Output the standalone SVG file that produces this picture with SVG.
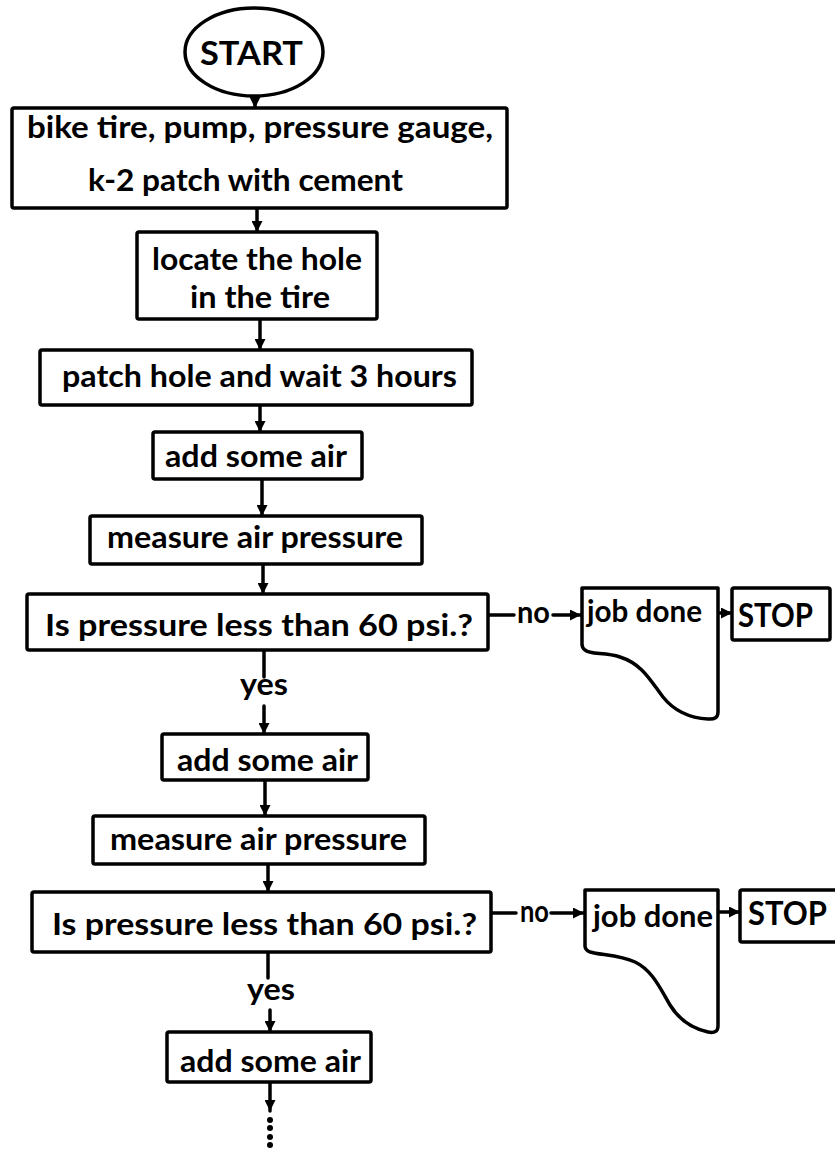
<svg xmlns="http://www.w3.org/2000/svg" width="835" height="1149" viewBox="0 0 835 1149">
  <style>
    .box { fill: #fff; stroke: #000; stroke-width: 3.5; stroke-linejoin: round; }
    .lbl { font-family: Lato, "Liberation Sans", sans-serif; font-weight: 700; font-size: 31px; fill: #000; }
    .big { font-size: 33px; }
    .conn { fill: none; stroke: #000; stroke-width: 3.5; stroke-linecap: round; }
    .dot { fill: #000; }
  </style>
  <defs>
    <marker id="arr" viewBox="0 0 10 10" refX="10" refY="5" markerWidth="12" markerHeight="11" markerUnits="userSpaceOnUse" orient="auto">
      <path d="M0,0 L10,5 L0,10 z" fill="#000"/>
    </marker>
  </defs>
  <rect width="835" height="1149" fill="#fff"/>

  <!-- connectors -->
  <g id="connectors">
    <line class="conn" x1="255" y1="96" x2="255" y2="108" marker-end="url(#arr)"/>
    <line class="conn" x1="257" y1="208" x2="257" y2="232" marker-end="url(#arr)"/>
    <line class="conn" x1="260" y1="320" x2="260" y2="350" marker-end="url(#arr)"/>
    <line class="conn" x1="260" y1="405" x2="260" y2="432" marker-end="url(#arr)"/>
    <line class="conn" x1="262" y1="480" x2="262" y2="516" marker-end="url(#arr)"/>
    <line class="conn" x1="263" y1="565" x2="263" y2="594" marker-end="url(#arr)"/>
    <line class="conn" x1="264" y1="651" x2="264" y2="677"/>
    <line class="conn" x1="264" y1="706" x2="264" y2="734" marker-end="url(#arr)"/>
    <line class="conn" x1="265" y1="781" x2="265" y2="816" marker-end="url(#arr)"/>
    <line class="conn" x1="268" y1="865" x2="268" y2="892" marker-end="url(#arr)"/>
    <line class="conn" x1="268" y1="953" x2="268" y2="978"/>
    <line class="conn" x1="270" y1="1010" x2="270" y2="1032" marker-end="url(#arr)"/>
    <line class="conn" x1="270" y1="1083" x2="270" y2="1111" marker-end="url(#arr)"/>
    <circle class="dot" cx="270" cy="1120" r="3"/>
    <circle class="dot" cx="270" cy="1128" r="3"/>
    <circle class="dot" cx="270" cy="1137" r="3"/>
    <circle class="dot" cx="270" cy="1145" r="3"/>

    <!-- first "no" branch -->
    <line class="conn" x1="489" y1="615" x2="514" y2="615"/>
    <line class="conn" x1="553" y1="615" x2="581" y2="615" marker-end="url(#arr)"/>
    <line class="conn" x1="719" y1="613" x2="732" y2="613" marker-end="url(#arr)"/>
    <!-- second "no" branch -->
    <line class="conn" x1="492" y1="913" x2="516" y2="913"/>
    <line class="conn" x1="551" y1="913" x2="584" y2="913" marker-end="url(#arr)"/>
    <line class="conn" x1="719" y1="912" x2="740" y2="912" marker-end="url(#arr)"/>

    <text class="lbl" x="517" y="623" textLength="33" lengthAdjust="spacingAndGlyphs">no</text>
    <text class="lbl" x="240" y="695" textLength="48" lengthAdjust="spacingAndGlyphs">yes</text>
    <text class="lbl" x="520" y="922" textLength="29" lengthAdjust="spacingAndGlyphs">no</text>
    <text class="lbl" x="247" y="1000" textLength="48" lengthAdjust="spacingAndGlyphs">yes</text>
  </g>

  <g id="start">
    <ellipse class="box" cx="254" cy="52" rx="69" ry="44"/>
    <text class="lbl big" x="200" y="65" textLength="103" lengthAdjust="spacingAndGlyphs">START</text>
  </g>

  <g id="materials">
    <rect class="box" x="12" y="108" width="495" height="100" rx="2"/>
    <text class="lbl" x="27" y="138" textLength="466" lengthAdjust="spacingAndGlyphs">bike tire, pump, pressure gauge,</text>
    <text class="lbl" x="88" y="191" textLength="315" lengthAdjust="spacingAndGlyphs">k-2 patch with cement</text>
  </g>

  <g id="locate">
    <rect class="box" x="137" y="232" width="240" height="87" rx="2"/>
    <text class="lbl" x="152" y="270" textLength="210" lengthAdjust="spacingAndGlyphs">locate the hole</text>
    <text class="lbl" x="190" y="308" textLength="140" lengthAdjust="spacingAndGlyphs">in the tire</text>
  </g>

  <g id="patch">
    <rect class="box" x="40" y="350" width="432" height="55" rx="2"/>
    <text class="lbl" x="62" y="387" textLength="395" lengthAdjust="spacingAndGlyphs">patch hole and wait 3 hours</text>
  </g>

  <g id="add1">
    <rect class="box" x="153" y="432" width="209" height="47" rx="2"/>
    <text class="lbl" x="165" y="467" textLength="182" lengthAdjust="spacingAndGlyphs">add some air</text>
  </g>

  <g id="measure1">
    <rect class="box" x="90" y="516" width="332" height="48" rx="2"/>
    <text class="lbl" x="107" y="548" textLength="296" lengthAdjust="spacingAndGlyphs">measure air pressure</text>
  </g>

  <g id="check1">
    <rect class="box" x="27" y="594" width="461" height="56" rx="2"/>
    <text class="lbl" x="45" y="636" textLength="428" lengthAdjust="spacingAndGlyphs">Is pressure less than 60 psi.?</text>
  </g>

  <g id="done1">
    <path class="box" d="M582,588 L718,588 L718,712 Q718,720 708,719 C690,718 675,712 663,697 C650,680 642,664 620,657 C605,652 590,655 585,650 Q582,648 582,644 Z"/>
    <text class="lbl" x="587" y="622" textLength="115" lengthAdjust="spacingAndGlyphs">job done</text>
  </g>

  <g id="stop1">
    <rect class="box" x="732" y="588" width="98" height="52" rx="2"/>
    <text class="lbl big" x="738" y="627" textLength="75" lengthAdjust="spacingAndGlyphs">STOP</text>
  </g>

  <g id="add2">
    <rect class="box" x="162" y="734" width="206" height="46" rx="2"/>
    <text class="lbl" x="177" y="771" textLength="181" lengthAdjust="spacingAndGlyphs">add some air</text>
  </g>

  <g id="measure2">
    <rect class="box" x="93" y="816" width="332" height="48" rx="2"/>
    <text class="lbl" x="110" y="850" textLength="297" lengthAdjust="spacingAndGlyphs">measure air pressure</text>
  </g>

  <g id="check2">
    <rect class="box" x="32" y="892" width="459" height="60" rx="2"/>
    <text class="lbl" x="52" y="935" textLength="425" lengthAdjust="spacingAndGlyphs">Is pressure less than 60 psi.?</text>
  </g>

  <g id="done2">
    <path class="box" d="M585,890 L718,890 L718,1026 Q718,1034 708,1032 C690,1028 678,1018 670,1005 C660,988 652,970 635,962 C620,955 600,955 590,952 Q585,950 585,946 Z"/>
    <text class="lbl" x="593" y="927" textLength="120" lengthAdjust="spacingAndGlyphs">job done</text>
  </g>

  <g id="stop2">
    <rect class="box" x="740" y="890" width="110" height="52" rx="2"/>
    <text class="lbl big" x="748" y="925" textLength="79" lengthAdjust="spacingAndGlyphs">STOP</text>
  </g>

  <g id="add3">
    <rect class="box" x="167" y="1032" width="204" height="50" rx="2"/>
    <text class="lbl" x="180" y="1072" textLength="181" lengthAdjust="spacingAndGlyphs">add some air</text>
  </g>
</svg>
